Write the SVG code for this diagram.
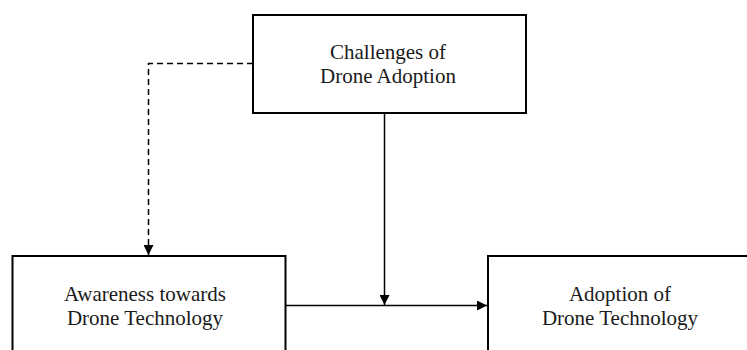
<svg xmlns="http://www.w3.org/2000/svg" width="747" height="350" viewBox="0 0 747 350">
<defs>
<style>
.box{fill:#fff;stroke:#000;stroke-width:2}
.lbl{font-family:"Liberation Serif","Times New Roman",serif;font-size:21px;fill:#1a1a1a;text-anchor:middle}
.con{fill:none;stroke:#000;stroke-width:1.5}
.dash{stroke-dasharray:6 4}
</style>
<marker id="ah" viewBox="0 0 10 10" refX="10" refY="5" markerWidth="10" markerHeight="10" markerUnits="userSpaceOnUse" orient="auto">
<path d="M0,0 L10,5 L0,10 z" fill="#000"/>
</marker>
</defs>
<rect width="747" height="350" fill="#fff"/>
<g id="connectors">
<path class="con dash" d="M253,63.5 H148.5 V255" marker-end="url(#ah)"/>
<path class="con" d="M384.5,113 V305" marker-end="url(#ah)"/>
<path class="con" d="M286,305.5 H487" marker-end="url(#ah)"/>
</g>
<g id="challenges">
<rect class="box" x="253" y="15" width="273" height="98"/>
<text class="lbl" x="388" y="59">Challenges of</text>
<text class="lbl" x="388" y="83">Drone Adoption</text>
</g>
<g id="awareness">
<rect class="box" x="12.5" y="256" width="273" height="110"/>
<text class="lbl" x="145" y="301">Awareness towards</text>
<text class="lbl" x="145" y="325">Drone Technology</text>
</g>
<g id="adoption">
<rect class="box" x="488" y="256" width="280" height="110"/>
<text class="lbl" x="620" y="301">Adoption of</text>
<text class="lbl" x="620" y="325">Drone Technology</text>
</g>
</svg>
